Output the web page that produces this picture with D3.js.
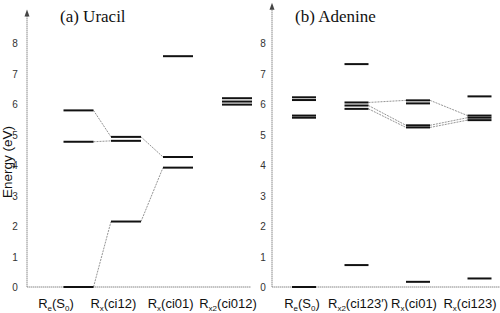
<!DOCTYPE html>
<html><head><meta charset="utf-8">
<script src="https://cdn.jsdelivr.net/npm/d3@7"></script>
<style>body{margin:0;background:#fff}svg{display:block}</style>
</head><body><svg id="c" width="500" height="313"></svg>
<script>
// ---- data ----
const ticks = [0,1,2,3,4,5,6,7,8];
const catsA = ["Re(S0)","Rx(ci12)","Rx(ci01)","Rx2(ci012)"];
const catsB = ["Re(S0)","Rx2(ci123')","Rx(ci01)","Rx(ci123)"];
// label parts: [main, subscript, rest, sub2, tail]
const labelsA = [["R","e","(S","0",")"],["R","x","(ci12)","",""],["R","x","(ci01)","",""],["R","x2","(ci012)","",""]];
const labelsB = [["R","e","(S","0",")"],["R","x2","(ci123′)","",""],["R","x","(ci01)","",""],["R","x","(ci123)","",""]];
const levelsA = [[0,4.77,5.80],[2.15,4.80,4.93],[3.92,4.27,7.58],[5.99,6.09,6.20]];
const levelsB = [[0,5.56,5.63,6.14,6.23],[0.72,5.85,5.96,6.06,7.32],[0.17,5.24,5.31,6.03,6.13],[0.28,5.48,5.56,5.63,6.26]];
// connectors: [fromCat, fromLevel, toCat, toLevel]
const linksA = [[0,5.80,1,4.93],[0,4.77,1,4.80],[0,0,1,2.15],[1,4.93,2,4.27],[1,2.15,2,3.92]];
const linksB = [[1,6.06,2,6.13],[1,5.96,2,5.31],[1,5.85,2,5.24],[2,6.13,3,5.63],[2,5.31,3,5.56],[2,5.24,3,5.48]];
const titles = ["(a) Uracil","(b) Adenine"];

const svg = d3.select("#c");
const y = d3.scaleLinear().domain([0,8]).range([287,43.4]);

function panel(o){
  const g = svg.append("g");
  const barX = d3.scaleOrdinal().domain(d3.range(4)).range(o.barCenters);
  const labX = d3.scalePoint().domain(d3.range(4)).range(o.labRange);
  // axes
  g.append("line").attr("x1",o.ax).attr("x2",o.ax).attr("y1",y(0)).attr("y2",y(o.top)+4)
    .attr("stroke","#888").attr("stroke-width",1).attr("stroke-dasharray","1.5,0.5");
  g.append("path").attr("d",`M${o.ax-2.5},${y(o.top)+6}L${o.ax},${y(o.top)-1}L${o.ax+2.5},${y(o.top)+6}Z`).attr("fill","#444");
  g.append("line").attr("x1",o.ax).attr("x2",o.xEnd).attr("y1",y(0)).attr("y2",y(0))
    .attr("stroke","#888").attr("stroke-width",1).attr("stroke-dasharray","1.5,0.5");
  g.selectAll(".tk").data(ticks).join("text").attr("x",o.tx).attr("y",d=>y(d)+4)
    .attr("text-anchor","middle").attr("font-family","Liberation Sans, Arial, sans-serif")
    .attr("font-size",10).attr("fill","#333").text(d=>d);
  // connectors
  g.selectAll(".ln").data(o.links).join("line")
    .attr("x1",d=>barX(d[0])+o.bw/2).attr("y1",d=>y(d[1]))
    .attr("x2",d=>barX(d[2])-o.bw/2).attr("y2",d=>y(d[3]))
    .attr("stroke","#888").attr("stroke-width",0.9).attr("stroke-dasharray","2,1");
  // levels
  o.levels.forEach((lv,i)=>{
    g.selectAll(null).data(lv).join("line")
      .attr("x1",barX(i)-o.bw/2).attr("x2",barX(i)+o.bw/2)
      .attr("y1",d=>y(d)).attr("y2",d=>y(d))
      .attr("stroke","#111").attr("stroke-width",2);
  });
  // category labels
  o.labels.forEach((p,i)=>{
    const t = g.append("text").attr("x",labX(i)).attr("y",308).attr("text-anchor","middle")
      .attr("font-family","Liberation Sans, Arial, sans-serif").attr("font-size",13).attr("fill","#111");
    t.append("tspan").text(p[0]);
    t.append("tspan").attr("font-size",8).attr("dy",3).text(p[1]);
    t.append("tspan").attr("dy",-3).text(p[2]);
    if(p[3]){
      t.append("tspan").attr("font-size",8).attr("dy",3).text(p[3]);
      t.append("tspan").attr("dy",-3).text(p[4]);
    }
  });
  g.append("text").attr("x",o.titleX).attr("y",22).attr("font-family","Liberation Serif, Times New Roman, serif")
    .attr("font-size",17).attr("fill","#111").text(o.title);
}

panel({ax:27, top:9.08, xEnd:251, tx:15, barCenters:[78.5,126,178,237], bw:30,
  labRange:[56,228], levels:levelsA, links:linksA, labels:labelsA, title:titles[0], titleX:60});
panel({ax:272, top:9.3, xEnd:500, tx:263, barCenters:[304,356.5,418,479.5], bw:24,
  labRange:[302,470], levels:levelsB, links:linksB, labels:labelsB, title:titles[1], titleX:295});

svg.append("text").attr("transform","translate(12,162) rotate(-90)").attr("text-anchor","middle")
  .attr("font-family","Liberation Sans, Arial, sans-serif").attr("font-size",13.5).attr("fill","#111").text("Energy (eV)");
</script></body></html>
